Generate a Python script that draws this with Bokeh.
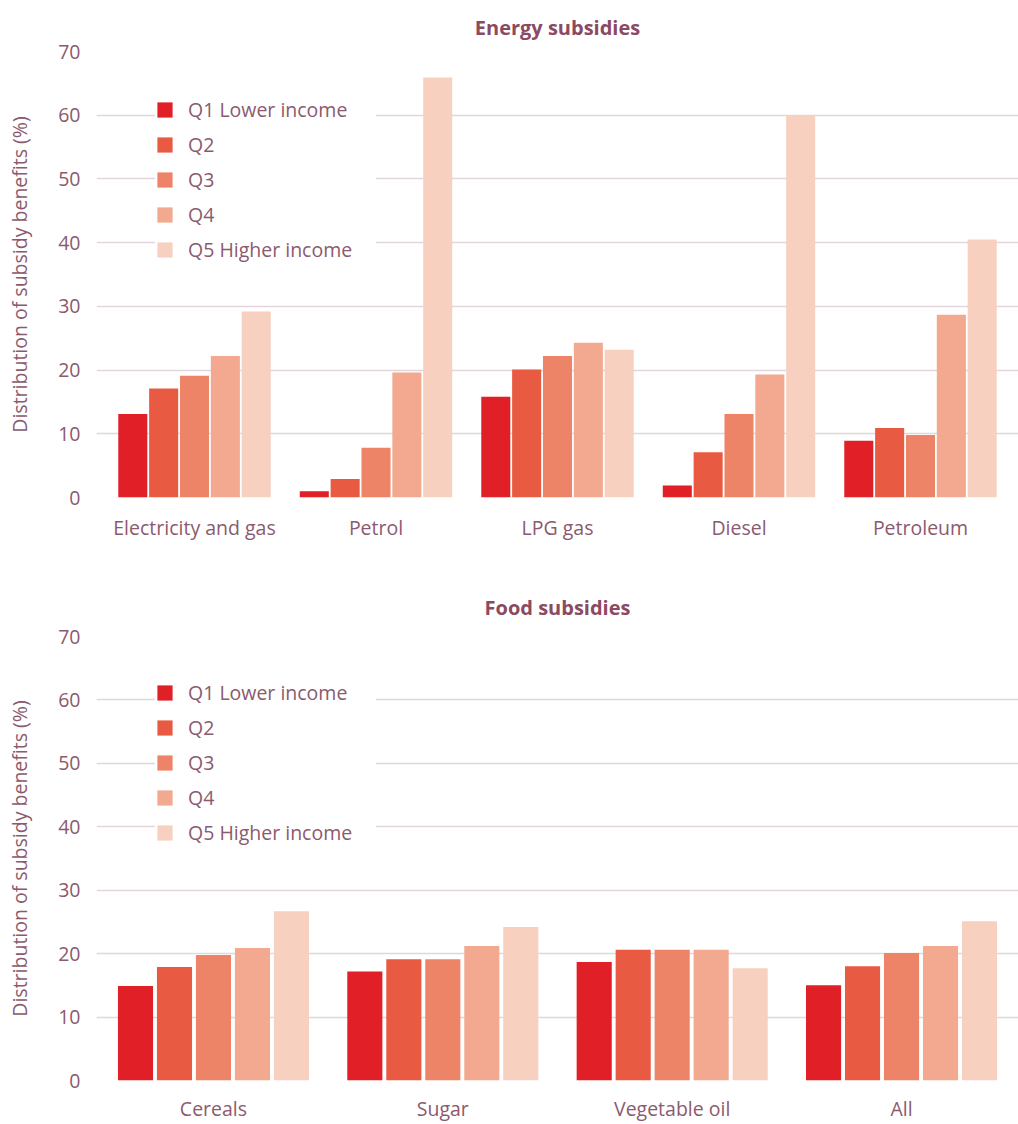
from bokeh.plotting import figure
from bokeh.models import ColumnDataSource, FactorRange, Legend, LegendItem, Range1d, FixedTicker
from bokeh.transform import dodge
from bokeh.layouts import column
from bokeh.embed import file_html
from bokeh.resources import INLINE

quintiles = ["Q1 Lower income", "Q2", "Q3", "Q4", "Q5 Higher income"]
colors = ["#e01f27", "#e85a42", "#ee8467", "#f2a98f", "#f7d0c0"]

energy_cats = ["Electricity and gas", "Petrol", "LPG gas", "Diesel", "Petroleum"]
energy_q1 = [13.1, 1.0, 15.8, 1.9, 8.9]
energy_q2 = [17.1, 2.9, 20.1, 7.1, 10.9]
energy_q3 = [19.1, 7.8, 22.2, 13.1, 9.8]
energy_q4 = [22.2, 19.6, 24.3, 19.3, 28.7]
energy_q5 = [29.2, 65.9, 23.2, 60.0, 40.5]

food_cats = ["Cereals", "Sugar", "Vegetable oil", "All"]
food_q1 = [14.9, 17.2, 18.7, 15.0]
food_q2 = [17.9, 19.1, 20.6, 18.0]
food_q3 = [19.8, 19.1, 20.6, 20.1]
food_q4 = [20.9, 21.2, 20.6, 21.2]
food_q5 = [26.7, 24.2, 17.7, 25.1]

y_ticks = [0, 10, 20, 30, 40, 50, 60, 70]

TEXT = "#8b5a6e"
TITLE = "#8b4a62"
GRID = "#e2d6dc"
FONT = "Open Sans"

W = 1018


def make(title, cats, series, height, border_top, border_bottom, pad, bar_w, x_standoff, t_standoff):
    src = ColumnDataSource(dict(cat=cats, q1=series[0], q2=series[1], q3=series[2],
                                q4=series[3], q5=series[4]))
    p = figure(x_range=FactorRange(*cats, range_padding=pad), y_range=Range1d(0, 70),
               width=W, height=height, output_backend="svg", toolbar_location=None,
               min_border_left=96, min_border_right=0, min_border_top=border_top,
               min_border_bottom=border_bottom, title=title)
    p.title.align = "center"
    p.title.text_font = FONT
    p.title.text_font_size = "20px"
    p.title.text_font_style = "bold"
    p.title.text_color = TITLE
    p.title.standoff = t_standoff
    step = 0.17
    renderers = []
    for i, key in enumerate(["q1", "q2", "q3", "q4", "q5"]):
        r = p.vbar(x=dodge("cat", (i - 2) * step, range=p.x_range), top=key, width=bar_w,
                   source=src, fill_color=colors[i], line_color=None)
        renderers.append(r)
    p.outline_line_color = None
    p.background_fill_color = "white"
    p.border_fill_color = "white"
    p.xgrid.grid_line_color = None
    p.ygrid.grid_line_color = GRID
    p.ygrid.grid_line_width = 1.5
    p.yaxis.ticker = FixedTicker(ticks=y_ticks)
    for ax in (p.xaxis[0], p.yaxis[0]):
        ax.axis_line_color = None
        ax.major_tick_line_color = None
        ax.minor_tick_line_color = None
        ax.major_tick_out = 0
        ax.major_tick_in = 0
        ax.minor_tick_out = 0
        ax.major_label_text_font = FONT
        ax.major_label_text_font_size = "19.5px"
        ax.major_label_text_color = TEXT
    p.xaxis.major_label_standoff = x_standoff
    p.yaxis.major_label_standoff = 16
    p.yaxis.axis_label = "Distribution of subsidy benefits (%)"
    p.yaxis.axis_label_text_font = FONT
    p.yaxis.axis_label_text_font_size = "19.5px"
    p.yaxis.axis_label_text_font_style = "normal"
    p.yaxis.axis_label_text_color = TEXT
    p.yaxis.axis_label_standoff = 22
    legend = Legend(items=[LegendItem(label=quintiles[i], renderers=[renderers[i]]) for i in range(5)],
                    location=(59, 234))
    legend.border_line_color = None
    legend.background_fill_color = "white"
    legend.background_fill_alpha = 1.0
    legend.padding = 20
    legend.margin = 0
    legend.spacing = 8
    legend.glyph_width = 19
    legend.glyph_height = 19
    legend.label_height = 19
    legend.label_width = 188
    legend.label_standoff = 14
    legend.label_text_font = FONT
    legend.label_text_font_size = "19.5px"
    legend.label_text_color = TEXT
    legend.label_text_baseline = "middle"
    p.add_layout(legend, "center")
    return p


top = make("Energy subsidies", energy_cats,
           [energy_q1, energy_q2, energy_q3, energy_q4, energy_q5], 557, 51, 60, 0.016, 0.16, 16, 22)
bottom = make("Food subsidies", food_cats,
              [food_q1, food_q2, food_q3, food_q4, food_q5], 567, 79, 40, 0.005, 0.153, 14, 32)

layout = column(top, bottom, spacing=0)
open("out.html", "w").write(file_html(layout, INLINE))
